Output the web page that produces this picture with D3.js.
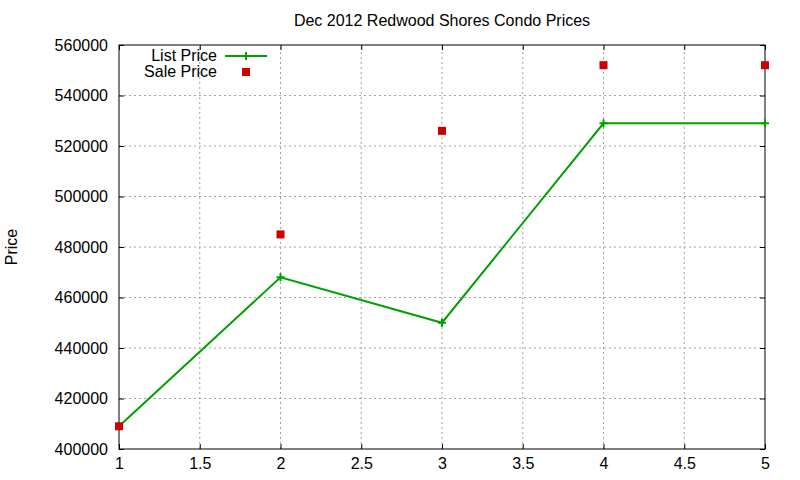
<!DOCTYPE html>
<html>
<head>
<meta charset="utf-8">
<script src="https://cdn.jsdelivr.net/npm/d3@7"></script>
<style>
  body { margin: 0; background: #fff; }
  text { font-family: "Liberation Sans", Arial, sans-serif; }
</style>
</head>
<body>
<svg id="chart" width="800" height="480"></svg>
<script>
const xs = [1, 2, 3, 4, 5];
const listPrice = [409000, 468000, 450000, 529000, 529000];
const salePrice = [409000, 485000, 526000, 552000, 552000];
const xTicks = [1, 1.5, 2, 2.5, 3, 3.5, 4, 4.5, 5];
const yTicks = [400000, 420000, 440000, 460000, 480000, 500000, 520000, 540000, 560000];

const width = 800, height = 480;
const margin = { top: 45, right: 35, bottom: 31, left: 119 };
const fs = 16;

const svg = d3.select("#chart");

const x = d3.scaleLinear().domain([1, 5]).range([margin.left, width - margin.right]);
const y = d3.scaleLinear().domain([400000, 560000]).range([height - margin.bottom, margin.top]);

// grid
svg.append("g")
  .selectAll("line")
  .data(xTicks.slice(1, -1))
  .join("line")
  .attr("x1", d => x(d)).attr("x2", d => x(d))
  .attr("y1", y(400000)).attr("y2", y(560000))
  .attr("stroke", "#a0a0a0").attr("stroke-dasharray", "2,3");
svg.append("g")
  .selectAll("line")
  .data(yTicks.slice(1, -1))
  .join("line")
  .attr("x1", x(1)).attr("x2", x(5))
  .attr("y1", d => y(d)).attr("y2", d => y(d))
  .attr("stroke", "#a0a0a0").attr("stroke-dasharray", "2,3");

// axes (ticks pointing inward, mirrored)
svg.append("g")
  .attr("transform", `translate(0,${y(400000)})`)
  .call(d3.axisBottom(x).tickValues(xTicks).tickFormat(d3.format("")).tickSizeInner(-5).tickSizeOuter(0).tickPadding(9))
  .call(g => g.select(".domain").remove())
  .call(g => g.selectAll("text").attr("font-size", fs).attr("fill", "#000").style("font-family", "Liberation Sans, Arial, sans-serif"));
svg.append("g")
  .attr("transform", `translate(0,${y(560000)})`)
  .call(d3.axisTop(x).tickValues(xTicks).tickFormat("").tickSizeInner(-5).tickSizeOuter(0))
  .call(g => g.select(".domain").remove());
svg.append("g")
  .attr("transform", `translate(${x(1)},0)`)
  .call(d3.axisLeft(y).tickValues(yTicks).tickFormat(d3.format("d")).tickSizeInner(-5).tickSizeOuter(0).tickPadding(11))
  .call(g => g.select(".domain").remove())
  .call(g => g.selectAll("text").attr("font-size", fs).attr("fill", "#000").style("font-family", "Liberation Sans, Arial, sans-serif"));
svg.append("g")
  .attr("transform", `translate(${x(5)},0)`)
  .call(d3.axisRight(y).tickValues(yTicks).tickFormat("").tickSizeInner(-5).tickSizeOuter(0))
  .call(g => g.select(".domain").remove());
svg.selectAll(".tick line").attr("stroke", "#000");

svg.append("rect")
  .attr("x", x(1)).attr("y", y(560000))
  .attr("width", x(5) - x(1)).attr("height", y(400000) - y(560000))
  .attr("fill", "none").attr("stroke", "#000").attr("stroke-width", 1);

// list price line
const listData = xs.map((d, i) => [d, listPrice[i]]);
svg.append("path")
  .datum(listData)
  .attr("fill", "none").attr("stroke", "#00a000").attr("stroke-width", 2)
  .attr("d", d3.line().x(d => x(d[0])).y(d => y(d[1])));
svg.append("g")
  .selectAll("path")
  .data(listData)
  .join("path")
  .attr("d", d => `M${x(d[0]) - 4},${y(d[1])}h8M${x(d[0])},${y(d[1]) - 4}v8`)
  .attr("stroke", "#00a000").attr("stroke-width", 2);

// sale price points
const saleData = xs.map((d, i) => [d, salePrice[i]]);
svg.append("g")
  .selectAll("rect")
  .data(saleData)
  .join("rect")
  .attr("x", d => x(d[0]) - 4).attr("y", d => y(d[1]) - 4)
  .attr("width", 8).attr("height", 8)
  .attr("fill", "#cc0000");

// legend
const leg = svg.append("g").attr("font-size", fs);
leg.append("text").attr("x", 217).attr("y", 61).attr("text-anchor", "end").text("List Price");
leg.append("line").attr("x1", 225).attr("x2", 267).attr("y1", 56).attr("y2", 56)
  .attr("stroke", "#00a000").attr("stroke-width", 2);
leg.append("path").attr("d", "M242,56h8M246,52v8").attr("stroke", "#00a000").attr("stroke-width", 2);
leg.append("text").attr("x", 217).attr("y", 77).attr("text-anchor", "end").text("Sale Price");
leg.append("rect").attr("x", 242).attr("y", 68).attr("width", 8).attr("height", 8).attr("fill", "#cc0000");

// title and axis label
svg.append("text")
  .attr("x", (x(1) + x(5)) / 2).attr("y", 26)
  .attr("text-anchor", "middle").attr("font-size", fs)
  .text("Dec 2012 Redwood Shores Condo Prices");
svg.append("text")
  .attr("transform", `translate(17,${(y(400000) + y(560000)) / 2}) rotate(-90)`)
  .attr("text-anchor", "middle").attr("font-size", fs)
  .text("Price");
</script>
</body>
</html>
